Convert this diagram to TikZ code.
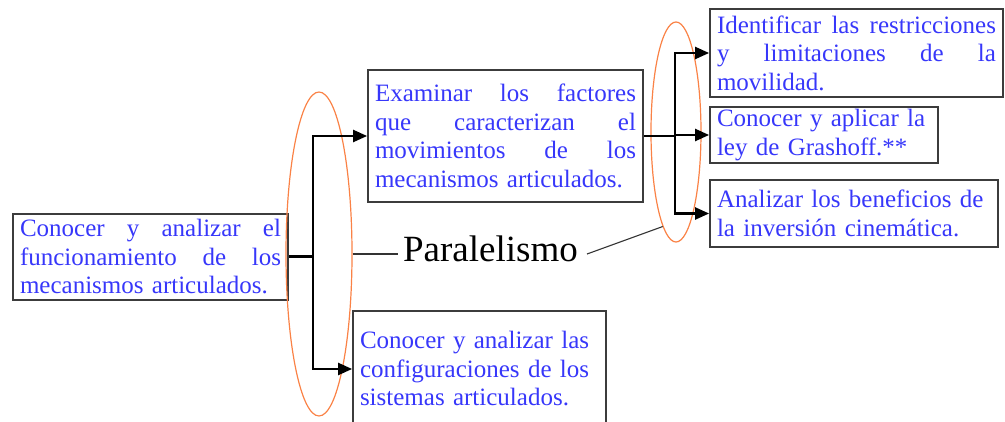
\documentclass[tikz,border=0pt]{standalone}
\usepackage{fontspec}
\setmainfont{Liberation Serif}
\usetikzlibrary{arrows.meta,shapes.geometric}
\definecolor{txtblue}{RGB}{55,55,250}
\definecolor{ellorange}{RGB}{250,130,70}
\definecolor{boxgray}{RGB}{60,60,60}
\tikzset{
  box/.style={draw=boxgray, line width=1.8pt, rectangle, inner xsep=7pt, inner ysep=0pt,
    text=txtblue, align=left, font=\fontsize{25}{28.5}\selectfont},
  conn/.style={line width=2.3pt, black},
  arr/.style={conn, -{Triangle[length=14pt,width=12pt]}},
  oval/.style={ellipse, draw=ellorange, line width=1.2pt, inner sep=0pt},
  thinline/.style={line width=1.1pt, black!80},
}
\begin{document}
\begin{tikzpicture}[x=1pt,y=-1pt]
\useasboundingbox (0,0) rectangle (1005,422);
% boxes
\node[box, minimum width=275pt, minimum height=86pt, text width=261pt] (b1) at (150.5,257)
  {Conocer\hfill y\hfill analizar\hfill el\\ funcionamiento\hfill de\hfill los\\ mecanismos articulados.};
\node[box, minimum width=275pt, minimum height=132pt, text width=261pt] (b2) at (505.5,136)
  {Examinar\hfill los\hfill factores\\ que\hfill caracterizan\hfill el\\ movimientos\hfill de\hfill los\\ mecanismos articulados.};
\node[box, minimum width=293pt, minimum height=88pt, text width=279pt] (b3) at (856.5,53)
  {Identificar\hfill las\hfill restricciones\\ y\hfill limitaciones\hfill de\hfill la\\ movilidad.};
\node[box, minimum width=228pt, minimum height=56pt, text width=214pt] (b4) at (824,135)
  {Conocer y aplicar la\\ ley de Grashoff.**};
\node[box, minimum width=288pt, minimum height=67pt, text width=274pt] (b5) at (854,213.5)
  {Analizar los beneficios de\\ la inversión cinemática.};
\node[box, minimum width=253pt, minimum height=116pt, text width=239pt] (b6) at (479.5,369)
  {Conocer y analizar las\\ configuraciones de los\\ sistemas articulados.};
% ovals
\node[oval, minimum width=66pt, minimum height=324pt] (e1) at (319,254) {};
\node[oval, minimum width=50pt, minimum height=220pt] (e2) at (676,132) {};
% label
\node[anchor=base, inner sep=0pt, font=\fontsize{37}{40}\selectfont] (par) at (490.5,262) {Paralelismo};
\draw[thinline] (e1.east) -- ([xshift=-5pt]par.west |- e1.east);
\draw[thinline] ([xshift=9pt]par.east |- e1.east) -- (e2.262);
% connectors
\coordinate (j1) at (313,257);
\coordinate (j2) at (675,136);
\draw[conn, line width=3pt] (b1.east) -- (j1);
\draw[arr] (j1) |- (b2.west);
\draw[arr] (j1) |- (b6.west);
\draw[conn] (b2.east) -- (j2);
\draw[arr] (j2) |- (b3.west);
\draw[arr] (j2) |- (b4.west);
\draw[arr] (j2) |- (b5.west);
\end{tikzpicture}
\end{document}
